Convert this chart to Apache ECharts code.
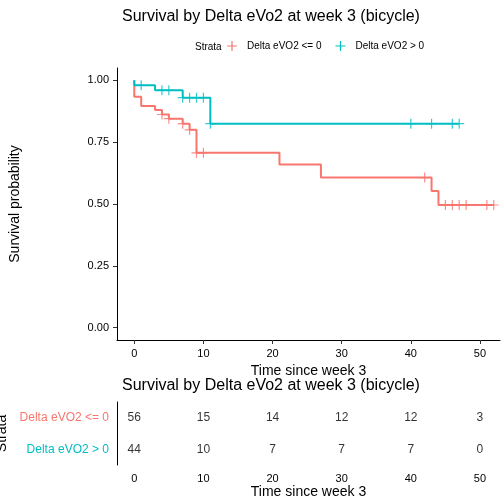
<!DOCTYPE html>
<html><head><meta charset="utf-8">
<script src="https://cdn.jsdelivr.net/npm/echarts@6/dist/echarts.min.js"></script>
<style>html,body{margin:0;background:#fff}#c{width:504px;height:504px}</style>
</head><body><div id="c"></div>
<script>
// step curves: [time, survival]
const lowCurve = [[0,1],[0,0.934],[1,0.896],[3,0.88],[4,0.862],[5,0.845],[7,0.825],[8,0.80],[9,0.707],[21,0.66],[27,0.607],[43,0.553],[44,0.496],[52,0.496]];
const lowCensor = [[4,0.862],[5,0.845],[7,0.825],[8,0.80],[9,0.707],[10,0.707],[42,0.607],[45,0.496],[46,0.496],[47,0.496],[48,0.496],[51,0.496],[52,0.496]];
const highCurve = [[0,1],[0,0.98],[3,0.96],[7,0.93],[11,0.825],[47,0.825]];
const highCensor = [[1,0.98],[4,0.96],[5,0.96],[7,0.93],[8,0.93],[9,0.93],[10,0.93],[11,0.825],[40,0.825],[43,0.825],[46,0.825],[47,0.825]];
const strata = ['Delta eVO2 <= 0', 'Delta eVO2 > 0'];
const timeTicks = [0, 10, 20, 30, 40, 50];
const atRiskLow = [56, 15, 14, 12, 12, 3];
const atRiskHigh = [44, 10, 7, 7, 7, 0];
const colors = ['#F8766D', '#00BFC4'];

const plus = 'path://M-0.12,-1h0.24v2h-0.24z M-1,-0.12h2v0.24h-2z';
const font = 'Liberation Sans';
const xAxisBase = () => ({
  type: 'value', min: -2.5, max: 52.9,
  splitLine: {show: false},
  axisLine: {onZero: false, lineStyle: {color: '#000'}},
  axisTick: {customValues: timeTicks, length: 4, lineStyle: {color: '#333'}},
  axisLabel: {customValues: timeTicks, color: '#000', fontSize: 11, fontFamily: font},
  name: 'Time since week 3', nameLocation: 'middle', nameGap: 18,
  nameTextStyle: {color: '#000', fontSize: 14, fontFamily: font}
});

const chart = echarts.init(document.getElementById('c'));
chart.setOption({
  animation: false,
  textStyle: {fontFamily: font},
  title: [
    {text: 'Survival by Delta eVo2 at week 3 (bicycle)', left: 117, top: 4, textStyle: {fontSize: 16, fontWeight: 'normal', color: '#000'}},
    {text: 'Survival by Delta eVo2 at week 3 (bicycle)', left: 117, top: 373, textStyle: {fontSize: 16, fontWeight: 'normal', color: '#000'}},
    {text: 'Strata', left: 190, top: 37, textStyle: {fontSize: 10, fontWeight: 'normal', color: '#000'}}
  ],
  legend: {
    top: 36, left: 222, itemWidth: 20, itemHeight: 10, itemGap: 14,
    textStyle: {fontSize: 10, color: '#000'},
    data: strata.map((s, i) => ({name: s, icon: plus, itemStyle: {color: colors[i]}}))
  },
  grid: [
    {left: 117, right: 4, top: 68, bottom: 164, outerBoundsMode: 'none'},
    {left: 117, right: 4, top: 402, bottom: 39, outerBoundsMode: 'none'}
  ],
  xAxis: [
    Object.assign({gridIndex: 0}, xAxisBase()),
    Object.assign({gridIndex: 1}, xAxisBase())
  ],
  yAxis: [
    {gridIndex: 0, type: 'value', min: -0.05, max: 1.05, splitLine: {show: false},
     axisLine: {show: true, onZero: false, lineStyle: {color: '#000'}},
     axisTick: {show: true, customValues: [0, 0.25, 0.5, 0.75, 1], length: 4, lineStyle: {color: '#333'}},
     axisLabel: {customValues: [0, 0.25, 0.5, 0.75, 1], formatter: v => v.toFixed(2), color: '#000', fontSize: 11},
     name: 'Survival probability', nameLocation: 'middle', nameGap: 95,
     nameTextStyle: {color: '#000', fontSize: 14}},
    {gridIndex: 1, type: 'category', data: strata, inverse: true,
     axisLine: {onZero: false, lineStyle: {color: '#000'}}, axisTick: {show: false},
     axisLabel: {color: (v) => colors[strata.indexOf(v)], fontSize: 12},
     name: 'Strata', nameLocation: 'middle', nameGap: 103,
     nameTextStyle: {color: '#000', fontSize: 14}}
  ],
  series: [
    {name: strata[0], type: 'line', step: 'end', data: lowCurve, showSymbol: false, lineStyle: {color: colors[0], width: 2}, itemStyle: {color: colors[0]}},
    {name: strata[1], type: 'line', step: 'end', data: highCurve, showSymbol: false, lineStyle: {color: colors[1], width: 2}, itemStyle: {color: colors[1]}},
    {name: strata[0], type: 'scatter', data: lowCensor, symbol: plus, symbolSize: 10, itemStyle: {color: colors[0]}},
    {name: strata[1], type: 'scatter', data: highCensor, symbol: plus, symbolSize: 10, itemStyle: {color: colors[1]}},
    {type: 'scatter', xAxisIndex: 1, yAxisIndex: 1, symbolSize: 0,
     data: atRiskLow.map((v, i) => [timeTicks[i], strata[0], v]),
     label: {show: true, position: 'inside', formatter: p => p.value[2], color: '#000', fontSize: 12}},
    {type: 'scatter', xAxisIndex: 1, yAxisIndex: 1, symbolSize: 0,
     data: atRiskHigh.map((v, i) => [timeTicks[i], strata[1], v]),
     label: {show: true, position: 'inside', formatter: p => p.value[2], color: '#000', fontSize: 12}}
  ]
});
</script></body></html>
